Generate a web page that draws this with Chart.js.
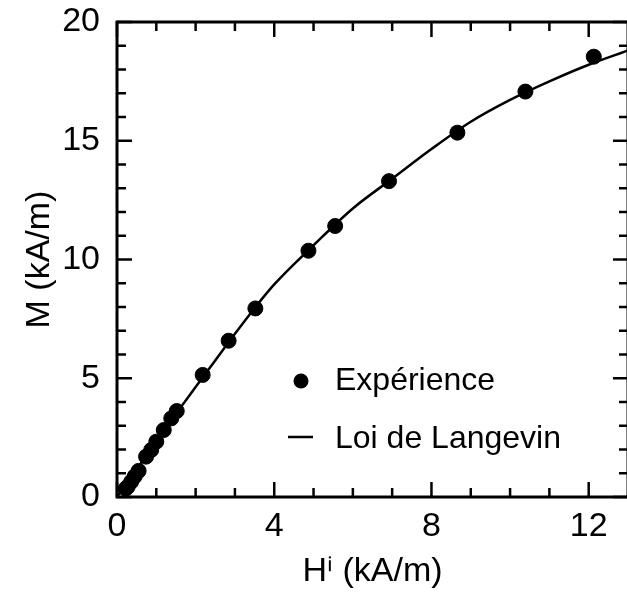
<!DOCTYPE html>
<html>
<head>
<meta charset="utf-8">
<script src="https://cdn.jsdelivr.net/npm/chart.js@4.4.0/dist/chart.umd.min.js"></script>
<style>
  html, body { margin: 0; padding: 0; overflow: hidden; background: #fff; }
  #boite { width: 640px; height: 597px; }
</style>
</head>
<body>
<div id="boite"><canvas id="aimantation" width="640" height="597"></canvas></div>
<script>
// points expérimentaux (kA/m)
const hExp = [0.22, 0.27, 0.36, 0.45, 0.55, 0.74, 0.87, 1.0, 1.19, 1.38, 1.52, 2.18, 2.84, 3.52, 4.87, 5.55, 6.92, 8.66, 10.39, 12.13];
const mExp = [0.35, 0.43, 0.64, 0.87, 1.1, 1.7, 1.98, 2.33, 2.82, 3.31, 3.62, 5.14, 6.58, 7.94, 10.37, 11.41, 13.3, 15.34, 17.07, 18.54];

// courbe de Langevin
const hCourbe = [0, 0.5, 1, 1.5, 2, 2.5, 3, 3.5, 4, 5, 6, 7, 8, 9, 10, 11, 12, 13];
const mCourbe = [0, 1.17, 2.34, 3.5, 4.63, 5.75, 6.87, 7.95, 8.95, 10.6, 12.15, 13.4, 14.65, 15.8, 16.72, 17.5, 18.2, 18.8];

const hMajeurs = [0, 4, 8, 12];
const hMineurs = [1, 2, 3, 5, 6, 7, 9, 10, 11];
const mMajeurs = [0, 5, 10, 15, 20];
const mMineurs = [1, 2, 3, 4, 6, 7, 8, 9, 11, 12, 13, 14, 16, 17, 18, 19];

const legende = ['Expérience', 'Loi de Langevin'];
const police = "'Liberation Sans', Arial, sans-serif";

const cadre = {
    id: 'cadre',
    afterDraw(chart) {
        const { ctx, chartArea: a, scales: { x, y } } = chart;
        ctx.save();
        ctx.strokeStyle = '#000';
        ctx.lineWidth = 2.5;
        const trait = (x1, y1, x2, y2) => { ctx.beginPath(); ctx.moveTo(x1, y1); ctx.lineTo(x2, y2); ctx.stroke(); };

        hMajeurs.concat(hMineurs).forEach(v => {
            const px = x.getPixelForValue(v);
            const l = hMajeurs.includes(v) ? 15 : 9;
            trait(px, a.bottom, px, a.bottom - l);
            trait(px, a.top, px, a.top + l);
        });
        mMajeurs.concat(mMineurs).forEach(v => {
            const py = y.getPixelForValue(v);
            const l = mMajeurs.includes(v) ? 15 : 9;
            trait(a.left, py, a.left + l, py);
            trait(a.right, py, a.right - l, py);
        });

        ctx.lineWidth = 3;
        ctx.strokeRect(a.left, a.top, a.right - a.left, a.bottom - a.top);

        // légende dans le cadre
        const lx = a.left + 184, ly = a.top + 359;
        ctx.fillStyle = '#000';
        ctx.beginPath(); ctx.arc(lx, ly, 7.5, 0, Math.PI * 2); ctx.fill();
        ctx.lineWidth = 2.5;
        trait(lx - 13, ly + 56, lx + 12, ly + 56);
        ctx.font = '32px ' + police;
        ctx.textBaseline = 'alphabetic';
        ctx.textAlign = 'left';
        ctx.fillText(legende[0], lx + 34, ly + 9);
        ctx.fillText(legende[1], lx + 34, ly + 67);
        ctx.restore();
    }
};

const sansMarge = s => { s.paddingTop = 0; s.paddingBottom = 0; s.paddingLeft = 0; s.paddingRight = 0; };

new Chart(document.getElementById('aimantation'), {
    type: 'scatter',
    data: {
        datasets: [
            {
                label: legende[1],
                type: 'line',
                data: hCourbe.map((h, i) => ({ x: h, y: mCourbe[i] })),
                borderColor: '#000',
                borderWidth: 2.5,
                pointRadius: 0,
                cubicInterpolationMode: 'monotone',
                fill: false
            },
            {
                label: legende[0],
                data: hExp.map((h, i) => ({ x: h, y: mExp[i] })),
                backgroundColor: '#000',
                borderColor: '#000',
                pointRadius: 7.5,
                pointHoverRadius: 7.5
            }
        ]
    },
    options: {
        responsive: false,
        animation: false,
        events: [],
        layout: { padding: { left: 0, right: 12, top: 22, bottom: 0 } },
        plugins: { legend: { display: false }, tooltip: { enabled: false } },
        scales: {
            x: {
                type: 'linear',
                min: 0,
                max: 13,
                grid: { display: false, drawTicks: false },
                border: { display: false },
                afterBuildTicks: s => { s.ticks = hMajeurs.map(v => ({ value: v })); },
                afterFit: s => { s.height = 100; sansMarge(s); },
                ticks: { color: '#000', font: { family: police, size: 34 }, padding: 9, maxRotation: 0, autoSkip: false },
                title: { display: true, text: 'Hⁱ (kA/m)', color: '#000', font: { family: police, size: 34 }, padding: { top: 0, bottom: 5 } }
            },
            y: {
                min: 0,
                max: 20,
                grid: { display: false, drawTicks: false },
                border: { display: false },
                afterBuildTicks: s => { s.ticks = mMajeurs.map(v => ({ value: v })); },
                afterFit: s => { s.width = 117; sansMarge(s); },
                ticks: { color: '#000', font: { family: police, size: 34 }, padding: 17, autoSkip: false },
                title: { display: true, text: 'M (kA/m)', color: '#000', font: { family: police, size: 34 }, padding: { top: 19, bottom: 0 } }
            }
        }
    },
    plugins: [cadre]
});
</script>
</body>
</html>
